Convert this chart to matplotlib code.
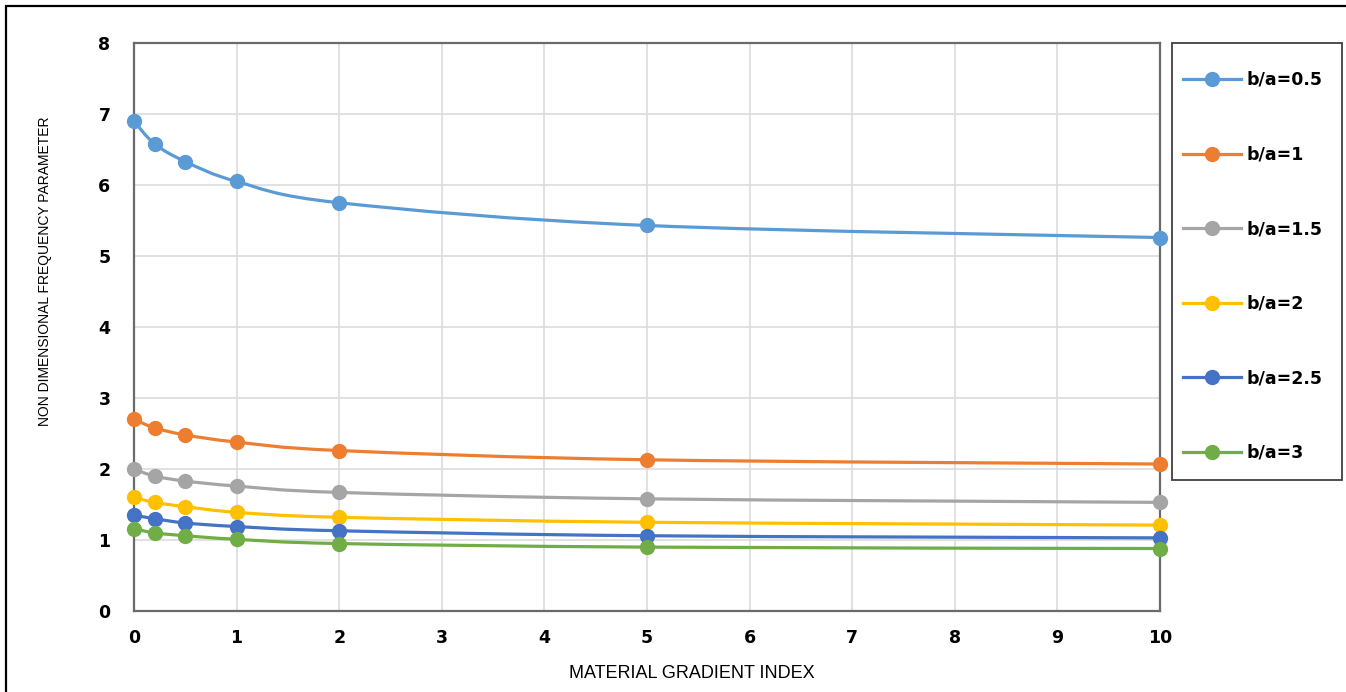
import matplotlib
matplotlib.use("Agg")
import matplotlib.pyplot as plt
from matplotlib.path import Path
from matplotlib.patches import PathPatch, Rectangle
from matplotlib.lines import Line2D

# ---- data ----
gradient_index = [0, 0.2, 0.5, 1, 2, 5, 10]
labels = ["b/a=0.5", "b/a=1", "b/a=1.5", "b/a=2", "b/a=2.5", "b/a=3"]
ba_05 = [6.90, 6.58, 6.33, 6.05, 5.75, 5.43, 5.26]
ba_10 = [2.70, 2.58, 2.48, 2.38, 2.26, 2.13, 2.07]
ba_15 = [2.00, 1.90, 1.83, 1.76, 1.67, 1.58, 1.53]
ba_20 = [1.60, 1.53, 1.47, 1.39, 1.32, 1.25, 1.21]
ba_25 = [1.35, 1.30, 1.24, 1.19, 1.13, 1.06, 1.03]
ba_30 = [1.16, 1.10, 1.06, 1.01, 0.95, 0.90, 0.88]
series = [ba_05, ba_10, ba_15, ba_20, ba_25, ba_30]
colors = ["#5B9BD5", "#ED7D31", "#A5A5A5", "#FFC000", "#4472C4", "#70AD47"]
x_ticks = [0, 1, 2, 3, 4, 5, 6, 7, 8, 9, 10]
y_ticks = [0, 1, 2, 3, 4, 5, 6, 7, 8]

W, H = 1346, 692
fig = plt.figure(figsize=(W / 100, H / 100), dpi=100)
ax = fig.add_axes([134 / W, 1 - 611 / H, (1160 - 134) / W, (611 - 43) / H])


def smooth_path(xs, ys):
    pts = list(zip(xs, ys))
    n = len(pts)
    verts = [pts[0]]
    codes = [Path.MOVETO]
    for i in range(n - 1):
        p0 = pts[i - 1] if i > 0 else pts[i]
        p1 = pts[i]
        p2 = pts[i + 1]
        p3 = pts[i + 2] if i + 2 < n else pts[i + 1]
        c1 = (p1[0] + (p2[0] - p0[0]) / 6, p1[1] + (p2[1] - p0[1]) / 6)
        c2 = (p2[0] - (p3[0] - p1[0]) / 6, p2[1] - (p3[1] - p1[1]) / 6)
        verts += [c1, c2, p2]
        codes += [Path.CURVE4] * 3
    return Path(verts, codes)


handles = []
for ys, c, lab in zip(series, colors, labels):
    ax.add_patch(PathPatch(smooth_path(gradient_index, ys), facecolor="none",
                           edgecolor=c, lw=2.3, zorder=3))
    ax.plot(gradient_index, ys, linestyle="none", marker="o", markersize=10,
            color=c, zorder=4, clip_on=False)
    handles.append(Line2D([], [], color=c, lw=2.3, marker="o", markersize=10))

ax.set_xlim(0, 10)
ax.set_ylim(0, 8)
ax.set_xticks(x_ticks)
ax.set_yticks(y_ticks)
ax.grid(True, color="#dcdcdc", lw=1.2, zorder=0)
ax.set_axisbelow(True)
for s in ax.spines.values():
    s.set_color("#6a6a6a")
    s.set_linewidth(1.6)
ax.tick_params(length=0)
ax.tick_params(axis="y", pad=17)
ax.tick_params(axis="x", pad=13)
for t in ax.get_yticklabels():
    t.set_fontweight("bold")
    t.set_fontsize(12.5)
for t in ax.get_xticklabels():
    t.set_fontweight("bold")
    t.set_fontsize(12.5)

fig.text(692 / W, 1 - 673 / H, "MATERIAL GRADIENT INDEX", ha="center", va="center",
         fontsize=13, family="Liberation Sans")
fig.text(45 / W, 1 - 271 / H, "NON DIMENSIONAL FREQUENCY PARAMETER", ha="center",
         va="center", rotation=90, fontsize=10, family="Liberation Sans")

# legend frame and entries
fig.patches.append(Rectangle((1172 / W, 1 - 480 / H), (1342 - 1172) / W, (480 - 43) / H,
                             transform=fig.transFigure, fill=False, edgecolor="#404040",
                             lw=1.3))
leg = fig.legend(handles, labels, loc="upper left", frameon=False,
                 bbox_to_anchor=(1183 / W, 1 - 71 / H), borderaxespad=0, borderpad=0,
                 prop={"weight": "bold", "size": 12.5}, handlelength=3.33,
                 handletextpad=0.3, labelspacing=3.26)

# outer frame
fig.patches.append(Rectangle((6 / W, -0.05), 1.1, 1 - 6 / H + 0.05,
                             transform=fig.transFigure, fill=False, edgecolor="black",
                             lw=1.6))

fig.savefig("out.png", dpi=100)
